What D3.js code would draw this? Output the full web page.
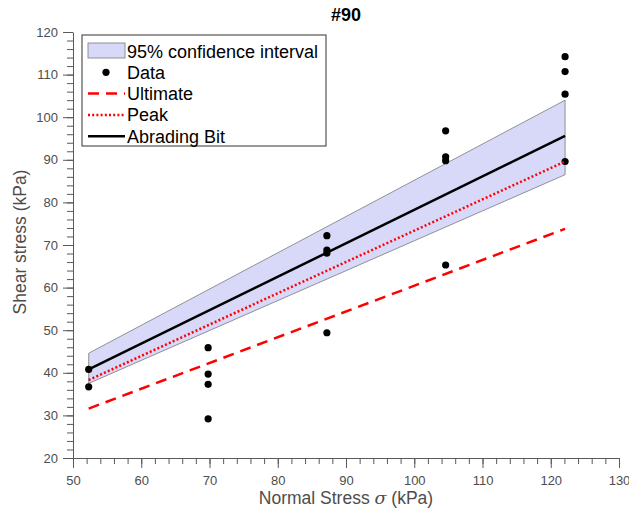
<!DOCTYPE html>
<html>
<head>
<meta charset="utf-8">
<script src="https://cdn.jsdelivr.net/npm/d3@7"></script>
<style>
    body { margin: 0; background: #fff; }
    svg { display: block; font-family: "Liberation Sans", Arial, sans-serif; }
    .axis path, .axis line { stroke: #5a5a5a; }
    .axis text { fill: #4d4d4d; font-size: 13px; }
</style>
</head>
<body>
<div id="chart"></div>
<script>
    // measured shear tests, one column per normal stress
    const normalStress = [52.3, 52.3, 69.8, 69.8, 69.8, 69.8, 87.2, 87.2, 87.2, 87.2,
        104.6, 104.6, 104.6, 104.6, 122.1, 122.1, 122.1, 122.1];
    const shearStress = [40.8, 36.7, 45.9, 39.7, 37.3, 29.2, 72.2, 68.8, 68.1, 49.4,
        96.8, 90.7, 89.8, 65.3, 114.2, 110.7, 105.4, 89.6];

    // fitted envelopes, evaluated at the ends of the tested range
    const fitX = [52.3, 122.1];
    const abradingFit = [40.8, 95.6];
    const peakFit = [38.3, 89.6];
    const ultimateFit = [31.6, 73.8];
    const ciUpper = [44.6, 104.0];
    const ciLower = [37.5, 86.5];

    const xTicks = d3.range(50, 131, 10);
    const yTicks = d3.range(20, 121, 10);
    const legendLabels = ["95% confidence interval", "Data", "Ultimate", "Peak", "Abrading Bit"];

    const width = 629, height = 512;
    const margin = {top: 32, right: 10, bottom: 54, left: 73};

    const svg = d3.select("#chart").append("svg")
        .attr("width", width)
        .attr("height", height);

    const x = d3.scaleLinear().domain([50, 130]).range([margin.left, width - margin.right]);
    const y = d3.scaleLinear().domain([20, 120]).range([height - margin.bottom, margin.top]);

    // confidence band
    const band = fitX.map((v, i) => [x(v), y(ciUpper[i])])
        .concat(fitX.map((v, i) => [x(v), y(ciLower[i])]).reverse());

    svg.append("path")
        .attr("d", d3.line()(band) + "Z")
        .attr("fill", "#d8d8f8")
        .attr("stroke", "#7a7a7a")
        .attr("stroke-width", 0.8);

    svg.append("g")
        .selectAll("circle")
        .data(normalStress)
        .join("circle")
        .attr("cx", d => x(d))
        .attr("cy", (d, i) => y(shearStress[i]))
        .attr("r", 3.6)
        .attr("fill", "#000");

    const fitLine = vals => d3.line()
        .x((d, i) => x(fitX[i]))
        .y(d => y(d))(vals);

    svg.append("path")
        .attr("d", fitLine(ultimateFit))
        .attr("fill", "none")
        .attr("stroke", "#ff0000")
        .attr("stroke-width", 2.5)
        .attr("stroke-dasharray", "11,7");

    svg.append("path")
        .attr("d", fitLine(peakFit))
        .attr("fill", "none")
        .attr("stroke", "#ff0000")
        .attr("stroke-width", 2.5)
        .attr("stroke-dasharray", "2,2.2");

    svg.append("path")
        .attr("d", fitLine(abradingFit))
        .attr("fill", "none")
        .attr("stroke", "#000")
        .attr("stroke-width", 2.5);

    // axes: major + minor ticks
    const xAxisY = height - margin.bottom;

    svg.append("g")
        .attr("class", "axis")
        .attr("transform", `translate(0,${xAxisY})`)
        .call(d3.axisBottom(x).tickValues(d3.range(50, 131, 2)).tickSize(6).tickSizeOuter(0).tickFormat(""));

    svg.append("g")
        .attr("class", "axis")
        .attr("transform", `translate(0,${xAxisY})`)
        .call(d3.axisBottom(x).tickValues(xTicks).tickSize(10).tickSizeOuter(0).tickPadding(8))
        .call(g => g.select(".domain").remove());

    svg.append("g")
        .attr("class", "axis")
        .attr("transform", `translate(${margin.left},0)`)
        .call(d3.axisLeft(y).tickValues(d3.range(20, 121, 2)).tickSize(6).tickSizeOuter(0).tickFormat(""));

    svg.append("g")
        .attr("class", "axis")
        .attr("transform", `translate(${margin.left},0)`)
        .call(d3.axisLeft(y).tickValues(yTicks).tickSize(10).tickSizeOuter(0).tickPadding(5))
        .call(g => g.select(".domain").remove());

    svg.append("text")
        .attr("x", (margin.left + width - margin.right) / 2)
        .attr("y", 504)
        .attr("text-anchor", "middle")
        .attr("fill", "#4d4d4d")
        .style("font-size", "17.5px")
        .html("Normal Stress <tspan font-family='DejaVu Serif' font-style='italic'>σ</tspan> (kPa)");

    svg.append("text")
        .attr("transform", `translate(26,${242}) rotate(-90)`)
        .attr("text-anchor", "middle")
        .attr("fill", "#4d4d4d")
        .style("font-size", "17.5px")
        .text("Shear stress (kPa)");

    svg.append("text")
        .attr("x", 346)
        .attr("y", 21)
        .attr("text-anchor", "middle")
        .attr("fill", "#000")
        .style("font-size", "18px")
        .style("font-weight", "bold")
        .text("#90");

    // legend
    const legend = svg.append("g").attr("transform", "translate(82,35)");
    const rowH = 21.3;
    const rowY = i => 16 + i * rowH;

    legend.append("rect")
        .attr("width", 244)
        .attr("height", 111)
        .attr("fill", "#fff")
        .attr("stroke", "#333")
        .attr("stroke-width", 1);

    legend.append("rect")
        .attr("x", 6).attr("y", rowY(0) - 8)
        .attr("width", 37).attr("height", 15)
        .attr("fill", "#d8d8f8")
        .attr("stroke", "#7a7a7a")
        .attr("stroke-width", 0.8);

    legend.append("circle")
        .attr("cx", 24).attr("cy", rowY(1))
        .attr("r", 3.6)
        .attr("fill", "#000");

    [["#ff0000", "11,7"], ["#ff0000", "2,2.2"], ["#000", null]].forEach(([c, dash], k) => {
        legend.append("line")
            .attr("x1", 6).attr("x2", 43)
            .attr("y1", rowY(k + 2)).attr("y2", rowY(k + 2))
            .attr("stroke", c)
            .attr("stroke-width", 2.5)
            .attr("stroke-dasharray", dash);
    });

    legend.selectAll(".lab")
        .data(legendLabels)
        .join("text")
        .attr("class", "lab")
        .attr("x", 45)
        .attr("y", (d, i) => rowY(i) + 6.5)
        .attr("fill", "#000")
        .style("font-size", "18px")
        .text(d => d);
</script>
</body>
</html>
